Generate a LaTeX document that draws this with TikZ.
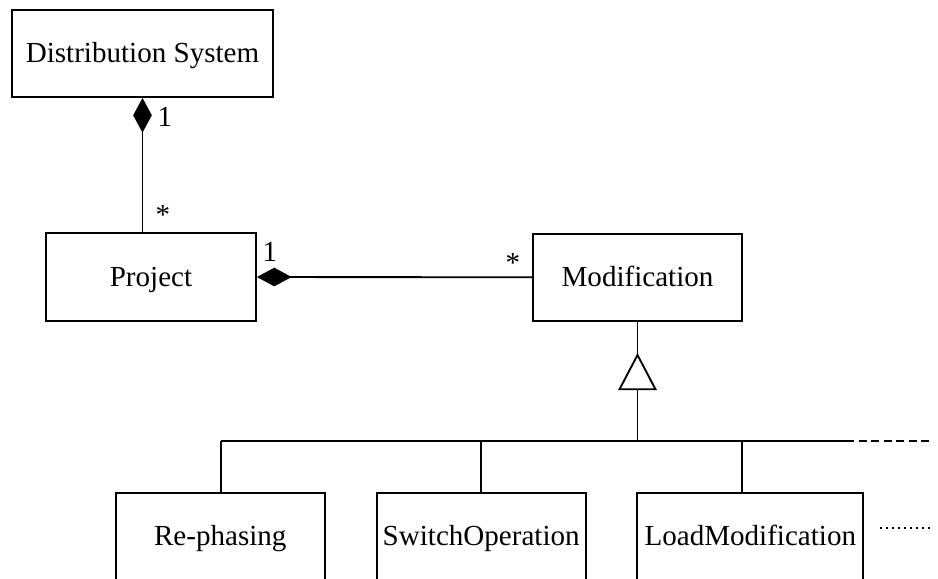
\documentclass[tikz,border=0pt]{standalone}
\usepackage{fontspec}
\setmainfont{Liberation Serif}
\usetikzlibrary{arrows.meta}
\begin{document}
\begin{tikzpicture}[x=0.75pt,y=-0.75pt,
  cls/.style={draw,line width=1.4pt,rectangle,inner sep=0pt,font=\fontsize{21.8}{26}\selectfont,text height=14.4pt,text depth=0pt},
  conn/.style={line width=1.4pt},
  comp/.style={conn,{Diamond[length=26pt,width=14pt]}-},
  mult/.style={font=\fontsize{21.8}{26}\selectfont,inner sep=0pt}]
\useasboundingbox (0,0) rectangle (938,578);
\clip (0,0) rectangle (938,578);
% classes
\node[cls,minimum width=195.75pt,minimum height=65.6pt] (ds) at (142.5,53.3) {Distribution System};
\node[cls,minimum width=157.5pt,minimum height=65.6pt] (proj) at (151,277) {Project};
\node[cls,minimum width=157.2pt,minimum height=65pt] (mod) at (637.5,277.3) {Modification};
\node[cls,minimum width=157pt,minimum height=65.25pt] (rp) at (220.3,536.2) {Re-phasing};
\node[cls,minimum width=156.75pt,minimum height=65.25pt] (so) at (481.2,536.2) {SwitchOperation};
\node[cls,minimum width=169.5pt,minimum height=65.25pt] (lm) at (750.3,536.2) {LoadModification};
% compositions
\draw[comp] (ds.south) -- (ds.south |- proj.north);
\draw[comp] (proj.east) -- (mod.west);
\node[mult] (m1) at (165,117) {1};
\node[mult] (m2) at (163,215) {*};
\node[mult] (m3) at (270,252) {1};
\node[mult] (m4) at (513,263) {*};
% generalisation
\coordinate (busL) at (220.7,441);
\coordinate (busR) at (846,441);
\coordinate (busE) at (933,441);
\coordinate (apex) at (637.5,355);
\coordinate (lmtop) at (741.7,441);
\draw[conn] (mod.south) -- (mod.south |- busL);
\draw[conn,fill=white] (apex) -- ++(-18,34.3) -- ++(36,0) -- cycle;
\draw[conn] (busL) -- (busR);
\draw[conn,dash pattern=on 6pt off 3.4pt] (busR) -- (busE);
\draw[conn] (busL) -- (busL |- rp.north);
\draw[conn] (so.north |- busL) -- (so.north);
\draw[conn] (lmtop) -- (lmtop |- lm.north);
% more
\coordinate (dotsA) at (880,528);
\coordinate (dotsB) at (930,528);
\draw[line width=1.5pt,dash pattern=on 1.5pt off 3pt] (dotsA) -- (dotsB);
\end{tikzpicture}
\end{document}
